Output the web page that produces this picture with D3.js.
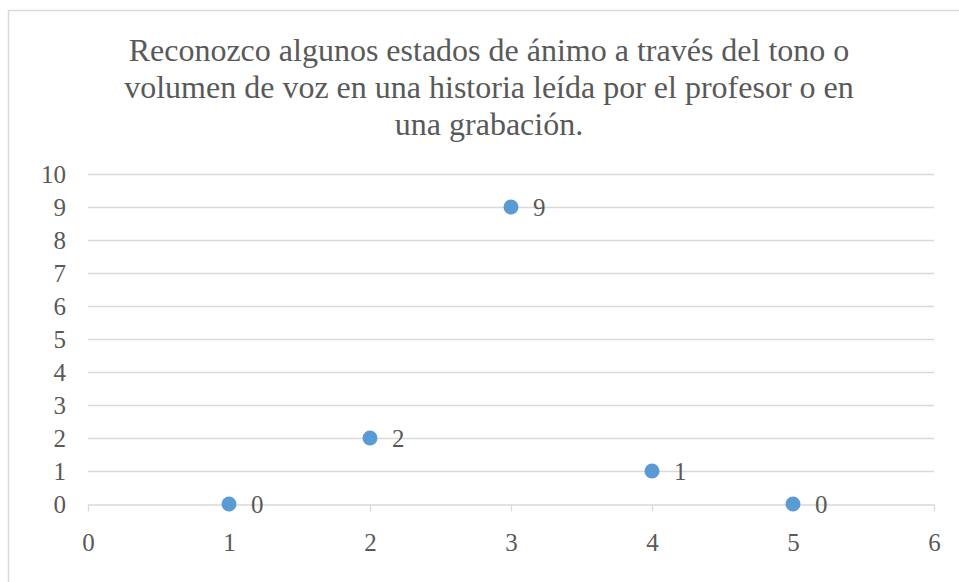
<!DOCTYPE html>
<html>
<head>
<meta charset="utf-8">
<script src="https://cdn.jsdelivr.net/npm/d3@7"></script>
<style>
  body { margin: 0; background: #fff; }
  text { font-family: "Liberation Serif", "Times New Roman", serif; fill: #595959; }
</style>
</head>
<body>
<svg width="959" height="582"></svg>
<script>
const titleLines = ["Reconozco algunos estados de ánimo a través del tono o",
    "volumen de voz en una historia leída por el profesor o en",
    "una grabación."];
const xValues = [1, 2, 3, 4, 5];
const yValues = [0, 2, 9, 1, 0];
const xTicks = [0, 1, 2, 3, 4, 5, 6];
const yTicks = [0, 1, 2, 3, 4, 5, 6, 7, 8, 9, 10];

const svg = d3.select("svg"),
    width = +svg.attr("width"),
    height = +svg.attr("height"),
    margin = { top: 174, right: 25, bottom: 78, left: 88 };

// chart frame
svg.append("rect")
    .attr("x", 8.5).attr("y", 10.5)
    .attr("width", width).attr("height", height)
    .attr("fill", "none")
    .attr("stroke", "#d9d9d9")
    .attr("stroke-width", 1.5);

const x = d3.scaleLinear().domain([0, 6]).range([margin.left, width - margin.right]);
const y = d3.scaleLinear().domain([0, 10]).range([height - margin.bottom, margin.top]);

// title
svg.append("text")
    .attr("text-anchor", "middle")
    .attr("font-size", 32)
    .selectAll("tspan")
    .data(titleLines)
    .enter().append("tspan")
    .attr("x", 489)
    .attr("y", function (d, i) { return 61 + i * 37; })
    .text(function (d) { return d; });

// gridlines
svg.append("g")
    .selectAll("line")
    .data(yTicks.filter(function (d) { return d > 0; }))
    .enter().append("line")
    .attr("x1", x(0)).attr("x2", x(6))
    .attr("y1", function (d) { return y(d) + 0.5; })
    .attr("y2", function (d) { return y(d) + 0.5; })
    .attr("stroke", "#d9d9d9")
    .attr("stroke-width", 1.3);

// y axis labels
const yAxis = svg.append("g")
    .attr("transform", "translate(" + x(0) + ",0)")
    .call(d3.axisLeft(y).tickValues(yTicks).tickFormat(d3.format("d")).tickSize(0).tickPadding(22));
yAxis.select(".domain").remove();
yAxis.selectAll("text").attr("font-size", 25).attr("font-family", null).attr("fill", "#595959");

// x axis
const xAxis = svg.append("g")
    .attr("transform", "translate(0," + (y(0) + 0.5) + ")")
    .call(d3.axisBottom(x).tickValues(xTicks).tickFormat(d3.format("d")).tickSize(7).tickSizeOuter(0).tickPadding(22));
xAxis.select(".domain").attr("stroke", "#d9d9d9").attr("stroke-width", 1.3);
xAxis.selectAll(".tick line").attr("stroke", "#d9d9d9").attr("stroke-width", 1.3);
xAxis.selectAll("text").attr("font-size", 25).attr("font-family", null).attr("fill", "#595959");

const data = xValues.map(function (d, i) { return { x: d, y: yValues[i] }; });

const pts = svg.append("g").selectAll("g")
    .data(data)
    .enter().append("g");

pts.append("circle")
    .attr("cx", function (d) { return x(d.x); })
    .attr("cy", function (d) { return y(d.y); })
    .attr("r", 7.5)
    .attr("fill", "#5b9bd5");

pts.append("text")
    .attr("x", function (d) { return x(d.x) + 22; })
    .attr("y", function (d) { return y(d.y); })
    .attr("dy", "0.35em")
    .attr("font-size", 25)
    .text(function (d) { return d.y; });
</script>
</body>
</html>
